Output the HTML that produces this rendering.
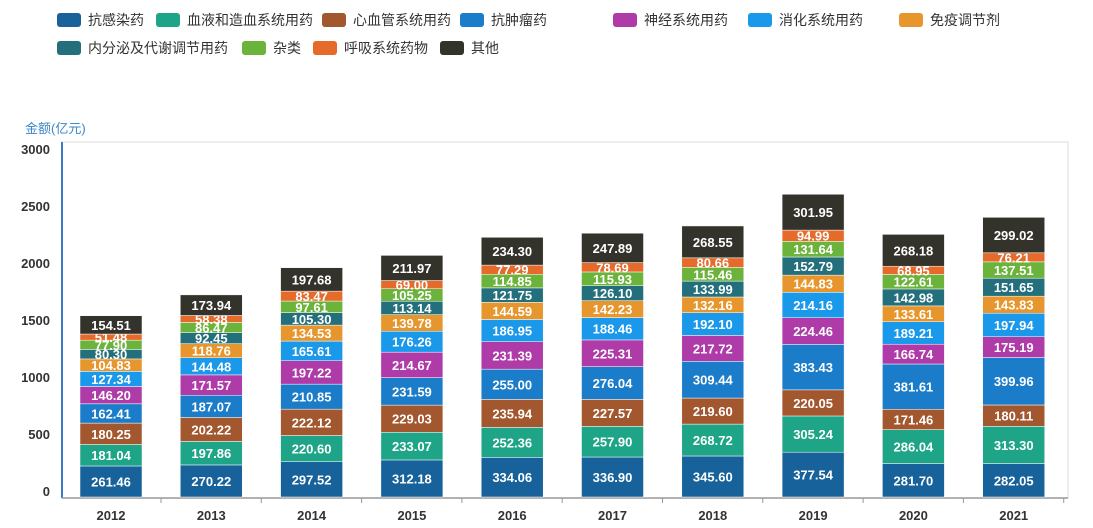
<!DOCTYPE html>
<html><head><meta charset="utf-8"><style>
body{margin:0;background:#fff;width:1093px;height:528px;overflow:hidden;font-family:"Liberation Sans","Noto Sans CJK SC",sans-serif;}
.lg{position:absolute;font-size:14px;color:#333;display:flex;align-items:center;white-space:nowrap}
.lg span.sw{display:inline-block;width:24px;height:14px;border-radius:3px;margin-right:7px}
</style></head><body>
<div id="legend"></div>
<svg id="chart" width="1093" height="528" style="position:absolute;left:0;top:0"></svg>
<script>
const years=["2012","2013","2014","2015","2016","2017","2018","2019","2020","2021"];
const seriesNames=["抗感染药","血液和造血系统用药","心血管系统用药","抗肿瘤药","神经系统用药","消化系统用药","免疫调节剂","内分泌及代谢调节用药","杂类","呼吸系统药物","其他"];
const s0=[261.46,270.22,297.52,312.18,334.06,336.90,345.60,377.54,281.70,282.05];
const s1=[181.04,197.86,220.60,233.07,252.36,257.90,268.72,305.24,286.04,313.30];
const s2=[180.25,202.22,222.12,229.03,235.94,227.57,219.60,220.05,171.46,180.11];
const s3=[162.41,187.07,210.85,231.59,255.00,276.04,309.44,383.43,381.61,399.96];
const s4=[146.20,171.57,197.22,214.67,231.39,225.31,217.72,224.46,166.74,175.19];
const s5=[127.34,144.48,165.61,176.26,186.95,188.46,192.10,214.16,189.21,197.94];
const s6=[104.83,118.76,134.53,139.78,144.59,142.23,132.16,144.83,133.61,143.83];
const s7=[80.30,92.45,105.30,113.14,121.75,126.10,133.99,152.79,142.98,151.65];
const s8=[77.90,86.47,97.61,105.25,114.85,115.93,115.46,131.64,122.61,137.51];
const s9=[51.48,58.38,83.47,69.00,77.29,78.69,80.66,94.99,68.95,76.21];
const s10=[154.51,173.94,197.68,211.97,234.30,247.89,268.55,301.95,268.18,299.02];
const yTicks=[0,500,1000,1500,2000,2500,3000];
const series=[s0,s1,s2,s3,s4,s5,s6,s7,s8,s9,s10];
const colors=["#17629a","#1ea587","#a3572e","#1b7cc9","#ae3ba7","#1a98ea","#e7962d","#236f7c","#6cb33b","#e66a2a","#34332b"];
const legPos=[[57,12],[156,12],[322,12],[460,12],[613,12],[748,12],[899,12],[57,40],[242,40],[313,40],[440,40]];
const leg=document.getElementById('legend');
seriesNames.forEach((n,i)=>{const d=document.createElement('div');d.className='lg';


d.style.left=legPos[i][0]+'px';d.style.top=(legPos[i][1]-2)+'px';
d.innerHTML='<span class="sw" style="background:'+colors[i]+'"></span>'+n;leg.appendChild(d);});
const svg=document.getElementById('chart');const NS='http://www.w3.org/2000/svg';
function el(t,a,p){const e=document.createElementNS(NS,t);for(const k in a)e.setAttribute(k,a[k]);(p||svg).appendChild(e);return e;}
const x0=62,x1=1068,yB=497,yT=141;
const y=v=>yB-(v/3000)*(yB-yT);
const yl=v=>491-(v/3000)*(491-149);
const xc=i=>x0+49+i*100.3;
const box=el('rect',{x:x0,y:142,width:x1-x0,height:356,fill:'none',stroke:'#ddd'});

const ya=el('line',{x1:x0,y1:142,x2:x0,y2:498,stroke:'#3a7bc8','stroke-width':2});

const xa=el('line',{x1:x0,y1:498,x2:x1,y2:498,stroke:'#999','stroke-width':1.5});

const yt=el('text',{x:25,y:133,fill:'#3a86c8','font-size':13});yt.textContent='金额(亿元)';

yTicks.forEach(v=>{const t=el('text',{x:50,y:yl(v)+5,'text-anchor':'end','font-size':13,'font-weight':'bold',fill:'#333'});t.textContent=v;
});
years.forEach((yr,i)=>{
 const t=el('text',{x:xc(i),y:520,'text-anchor':'middle','font-size':13,'font-weight':'bold',fill:'#333'});t.textContent=yr;
 
 const tk=el('line',{x1:xc(i)+50,y1:498,x2:xc(i)+50,y2:503,stroke:'#999'});
 let acc=0;
 series.forEach((s,k)=>{const v=s[i];const top=y(acc+v),bot=y(acc);
  const r=el('rect',{x:xc(i)-31,y:top,width:62,height:bot-top,fill:colors[k],stroke:'#fff','stroke-width':0.5});
  
  const lb=el('text',{x:xc(i),y:(top+bot)/2+5,'text-anchor':'middle','font-size':13,'font-weight':'bold',fill:'#fff'});lb.textContent=v.toFixed(2);
  
  acc+=v;});
});
</script>
</body></html>
